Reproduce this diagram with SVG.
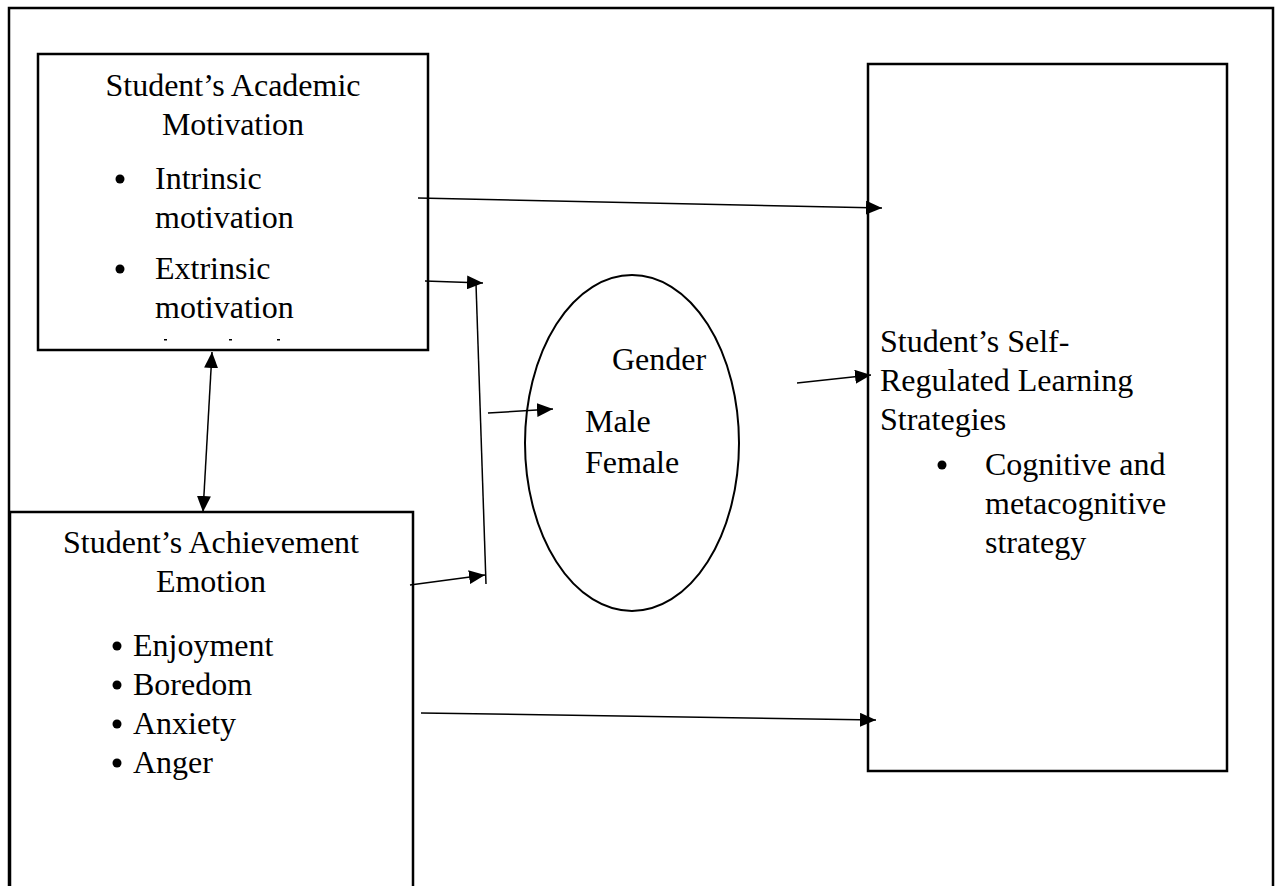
<svg xmlns="http://www.w3.org/2000/svg" width="1280" height="886" viewBox="0 0 1280 886">
<style>
.box{fill:none;stroke:#000;stroke-width:2.5}
.t{font-family:"Liberation Serif","Times New Roman",serif;font-size:32px;fill:#000}
.m{text-anchor:middle}
.c{stroke:#000;stroke-width:1.5;fill:none}
.b{fill:#000}
</style>
<defs>
<marker id="ah" markerUnits="userSpaceOnUse" markerWidth="16" markerHeight="14" refX="16" refY="7" orient="auto">
<path d="M0,0 L16,7 L0,14 z" fill="#000"/>
</marker>
<marker id="ahs" markerUnits="userSpaceOnUse" markerWidth="16" markerHeight="14" refX="0" refY="7" orient="auto">
<path d="M16,0 L0,7 L16,14 z" fill="#000"/>
</marker>
</defs>
<rect width="1280" height="886" fill="#fff"/>
<g id="frame"><path class="box" d="M9,900 L9,8 L1273,8 L1273,900"/></g>
<g id="motivation">
<rect class="box" x="38" y="54" width="390" height="296"/>
<text class="t m" x="233" y="96">Student’s Academic</text>
<text class="t m" x="233" y="135">Motivation</text>
<circle class="b" cx="120" cy="179" r="4.5"/>
<text class="t" x="155" y="189">Intrinsic</text>
<text class="t" x="155" y="228">motivation</text>
<circle class="b" cx="120" cy="269" r="4.5"/>
<text class="t" x="155" y="279">Extrinsic</text>
<text class="t" x="155" y="318">motivation</text>
<rect class="b" x="164" y="339" width="3" height="1.5"/>
<rect class="b" x="229" y="339" width="3" height="1.5"/>
<rect class="b" x="277" y="339" width="3" height="1.5"/>
</g>
<g id="emotion">
<path class="box" d="M10,900 L10,512 L413,512 L413,900"/>
<text class="t m" x="211" y="553">Student’s Achievement</text>
<text class="t m" x="211" y="592">Emotion</text>
<circle class="b" cx="117" cy="646" r="4.5"/>
<text class="t" x="133" y="656">Enjoyment</text>
<circle class="b" cx="117" cy="685" r="4.5"/>
<text class="t" x="133" y="695">Boredom</text>
<circle class="b" cx="117" cy="724" r="4.5"/>
<text class="t" x="133" y="734">Anxiety</text>
<circle class="b" cx="117" cy="763" r="4.5"/>
<text class="t" x="133" y="773">Anger</text>
</g>
<g id="gender">
<ellipse cx="632" cy="443" rx="107" ry="168" fill="none" stroke="#000" stroke-width="2"/>
<text class="t" x="612" y="370">Gender</text>
<text class="t" x="585" y="432">Male</text>
<text class="t" x="585" y="473">Female</text>
</g>
<g id="srl">
<rect class="box" x="868" y="64" width="359" height="707"/>
<text class="t" x="880" y="352">Student’s Self-</text>
<text class="t" x="880" y="391">Regulated Learning</text>
<text class="t" x="880" y="430">Strategies</text>
<circle class="b" cx="942" cy="465" r="4.5"/>
<text class="t" x="985" y="475">Cognitive and</text>
<text class="t" x="985" y="514">metacognitive</text>
<text class="t" x="985" y="553">strategy</text>
</g>
<g id="connectors">
<line class="c" x1="418" y1="198" x2="882" y2="208" marker-end="url(#ah)"/>
<line class="c" x1="425" y1="281" x2="483" y2="283" marker-end="url(#ah)"/>
<line class="c" x1="476" y1="284" x2="486" y2="584"/>
<line class="c" x1="410" y1="585" x2="485" y2="575" marker-end="url(#ah)"/>
<line class="c" x1="488" y1="413" x2="553" y2="409" marker-end="url(#ah)"/>
<line class="c" x1="797" y1="383" x2="871" y2="375" marker-end="url(#ah)"/>
<line class="c" x1="421" y1="713" x2="876" y2="720" marker-end="url(#ah)"/>
<line class="c" x1="212" y1="352" x2="203" y2="512" marker-start="url(#ahs)" marker-end="url(#ah)"/>
</g>
</svg>
